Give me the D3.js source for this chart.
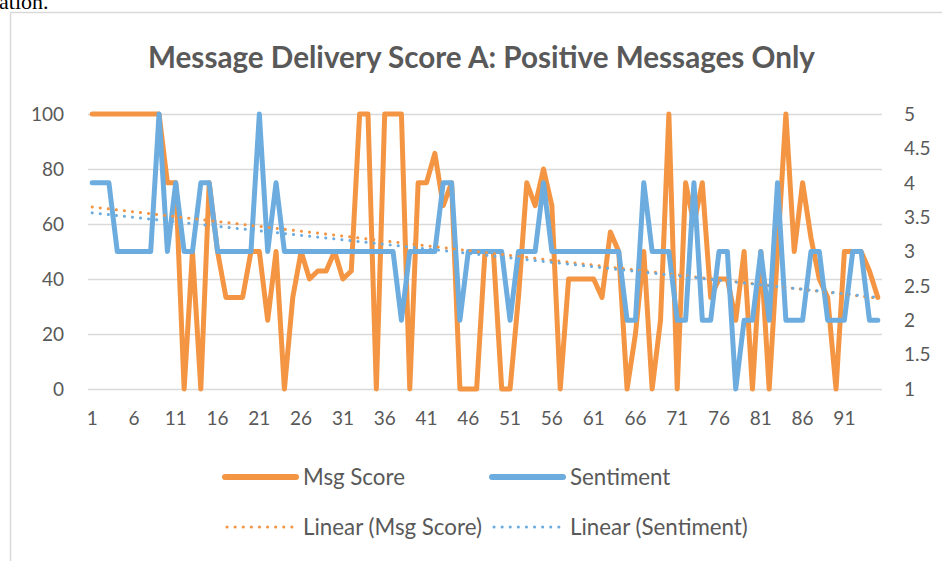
<!DOCTYPE html>
<html>
<head>
<meta charset="utf-8">
<script src="https://cdn.jsdelivr.net/npm/d3@7"></script>
<style>
  body { margin: 0; background: #fff; }
  svg { display: block; }
  text { font-family: Lato, "Open Sans", sans-serif; fill: #595959; }
</style>
</head>
<body>
<div id="chart"></div>
<script>
// message index 1..95
var messages = d3.range(1, 96);

// Msg Score per message (left axis, 0-100)
var msgScore = [
  100, 100, 100, 100, 100, 100, 100, 100, 100, 75,
  75, 0, 50, 0, 75, 50, 33.3, 33.3, 33.3, 50,
  50, 25, 50, 0, 33.3, 50, 40, 42.9, 42.9, 50,
  40, 42.9, 100, 100, 0, 100, 100, 100, 0, 75,
  75, 85.7, 66.7, 75, 0, 0, 0, 50, 50, 0,
  0, 33.3, 75, 66.7, 80, 66.7, 0, 40, 40, 40,
  40, 33.3, 57.1, 50, 0, 20, 50, 0, 25, 100,
  0, 75, 60, 75, 33.3, 40, 40, 25, 50, 0,
  50, 0, 50, 100, 50, 75, 55, 40, 33.3, 0,
  50, 50, 50, 42.9, 33.3
];

// Sentiment per message (right axis, 1-5)
var sentiment = [
  4, 4, 4, 3, 3, 3, 3, 3, 5, 3,
  4, 3, 3, 4, 4, 3, 3, 3, 3, 3,
  5, 3, 4, 3, 3, 3, 3, 3, 3, 3,
  3, 3, 3, 3, 3, 3, 3, 2, 3, 3,
  3, 3, 4, 4, 2, 3, 3, 3, 3, 3,
  2, 3, 3, 3, 4, 3, 3, 3, 3, 3,
  3, 3, 3, 3, 2, 2, 4, 3, 3, 3,
  2, 2, 4, 2, 2, 3, 3, 1, 2, 2,
  3, 2, 4, 2, 2, 2, 3, 3, 2, 2,
  2, 3, 3, 2, 2
];

var leftTicks = [0, 20, 40, 60, 80, 100];
var rightTicks = [1, 1.5, 2, 2.5, 3, 3.5, 4, 4.5, 5];
var xTickLabels = [1, 6, 11, 16, 21, 26, 31, 36, 41, 46, 51, 56, 61, 66, 71, 76, 81, 86, 91];

var title = "Message Delivery Score A: Positive Messages Only";
var seriesNames = ["Msg Score", "Sentiment"];

var orange = "#F39542";
var blue = "#6CACDE";

var width = 942, height = 561;
var plot = { left: 88, right: 882, top: 114, bottom: 389 };

var svg = d3.select("#chart").append("svg")
  .attr("width", width)
  .attr("height", height);

// bit of the surrounding document text
svg.append("text")
  .attr("x", -1)
  .attr("y", 9)
  .style("font-family", "'Liberation Serif', serif")
  .style("font-size", "22px")
  .style("fill", "#000")
  .text("ation.");

// chart area border
svg.append("rect")
  .attr("x", 10.5)
  .attr("y", 12.5)
  .attr("width", 960)
  .attr("height", 600)
  .style("fill", "none")
  .style("stroke", "#D9D9D9")
  .style("stroke-width", 1.5);

var x = d3.scaleBand().domain(messages).range([plot.left, plot.right]);
var px = function (i) { return x(i) + x.bandwidth() / 2; };
var yLeft = d3.scaleLinear().domain([0, 100]).range([plot.bottom, plot.top]);
var yRight = d3.scaleLinear().domain([1, 5]).range([plot.bottom, plot.top]);

// gridlines
svg.append("g").selectAll("line")
  .data(leftTicks)
  .enter()
  .append("line")
  .attr("x1", plot.left)
  .attr("x2", plot.right)
  .attr("y1", function (d) { return Math.round(yLeft(d)) + 0.5; })
  .attr("y2", function (d) { return Math.round(yLeft(d)) + 0.5; })
  .style("stroke", "#D9D9D9")
  .style("stroke-width", 1.5);

// left axis labels
svg.append("g").selectAll("text")
  .data(leftTicks)
  .enter()
  .append("text")
  .attr("x", 64)
  .attr("y", function (d) { return yLeft(d); })
  .attr("dy", "0.36em")
  .style("text-anchor", "end")
  .style("font-size", "19px")
  .text(function (d) { return d; });

// right axis labels
svg.append("g").selectAll("text")
  .data(rightTicks)
  .enter()
  .append("text")
  .attr("x", 904)
  .attr("y", function (d) { return yRight(d); })
  .attr("dy", "0.36em")
  .style("text-anchor", "start")
  .style("font-size", "19px")
  .text(function (d) { return d; });

// category labels
svg.append("g").selectAll("text")
  .data(xTickLabels)
  .enter()
  .append("text")
  .attr("x", function (d) { return px(d); })
  .attr("y", 425)
  .style("text-anchor", "middle")
  .style("font-size", "19px")
  .text(function (d) { return d; });

// title, sized to the width it takes in the original
var titleText = svg.append("text")
  .attr("x", 481.5)
  .attr("y", 68)
  .style("text-anchor", "middle")
  .style("font-weight", "bold")
  .style("font-size", "25px")
  .text(title);
var tw = titleText.node().getComputedTextLength();
titleText.style("font-size", (25 * 667 / tw).toFixed(2) + "px");

// series lines
var scoreLine = d3.line()
  .x(function (d, i) { return px(messages[i]); })
  .y(function (d) { return yLeft(d); });
var sentLine = d3.line()
  .x(function (d, i) { return px(messages[i]); })
  .y(function (d) { return yRight(d); });

svg.append("path")
  .datum(msgScore)
  .attr("d", scoreLine)
  .style("fill", "none")
  .style("stroke", orange)
  .style("stroke-width", 5)
  .style("stroke-linejoin", "round")
  .style("stroke-linecap", "round");

svg.append("path")
  .datum(sentiment)
  .attr("d", sentLine)
  .style("fill", "none")
  .style("stroke", blue)
  .style("stroke-width", 5)
  .style("stroke-linejoin", "round")
  .style("stroke-linecap", "round");

// least squares trend, like Excel's "Linear" trendline
function linearFit(values) {
  var n = values.length;
  var mx = d3.mean(messages), my = d3.mean(values);
  var sxy = 0, sxx = 0;
  for (var i = 0; i < n; i++) {
    sxy += (messages[i] - mx) * (values[i] - my);
    sxx += (messages[i] - mx) * (messages[i] - mx);
  }
  var slope = sxy / sxx;
  return [messages[0], messages[n - 1]].map(function (m) {
    return { m: m, v: my + slope * (m - mx) };
  });
}

function drawTrend(values, yScale, color) {
  svg.append("path")
    .datum(linearFit(values))
    .attr("d", d3.line()
      .x(function (d) { return px(d.m); })
      .y(function (d) { return yScale(d.v); }))
    .style("fill", "none")
    .style("stroke", color)
    .style("stroke-width", 3)
    .style("stroke-linecap", "round")
    .style("stroke-dasharray", "0.1 8");
}
drawTrend(msgScore, yLeft, orange);
drawTrend(sentiment, yRight, blue);

// legend
var legend = svg.append("g").style("font-size", "19px");
var legendItems = [
  { label: seriesNames[0], color: orange, dotted: false, x: 225, y: 477 },
  { label: seriesNames[1], color: blue, dotted: false, x: 492, y: 477 },
  { label: "Linear (" + seriesNames[0] + ")", color: orange, dotted: true, x: 225, y: 527 },
  { label: "Linear (" + seriesNames[1] + ")", color: blue, dotted: true, x: 492, y: 527 }
];
var legendTexts = [];
legendItems.forEach(function (d) {
  legend.append("line")
    .attr("x1", d.x + (d.dotted ? 2 : 0))
    .attr("x2", d.x + (d.dotted ? 68 : 71))
    .attr("y1", d.y)
    .attr("y2", d.y)
    .style("stroke", d.color)
    .style("stroke-width", d.dotted ? 3 : 6)
    .style("stroke-linecap", "round")
    .style("stroke-dasharray", d.dotted ? "0.1 8" : null);
  legendTexts.push(legend.append("text")
    .attr("x", d.x + 78)
    .attr("y", d.y)
    .attr("dy", "0.35em")
    .text(d.label));
});
// match the legend text width of the original ("Linear (Msg Score)" is about 179px)
var lw = legendTexts[2].node().getComputedTextLength();
legend.style("font-size", (19 * 179 / lw).toFixed(2) + "px");
</script>
</body>
</html>
